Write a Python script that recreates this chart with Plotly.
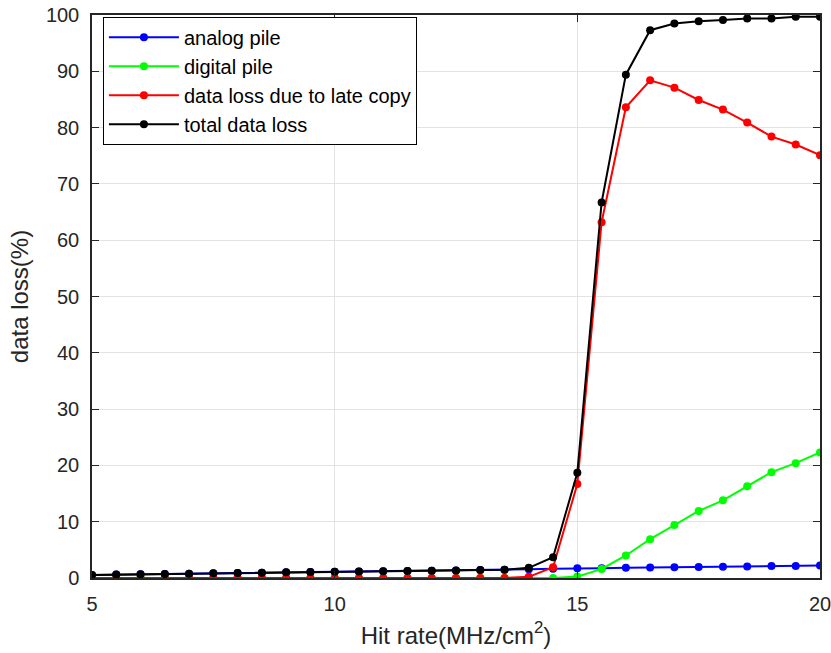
import plotly.graph_objects as go

hit_rate = [5, 5.5, 6, 6.5, 7, 7.5, 8, 8.5, 9, 9.5, 10, 10.5, 11, 11.5, 12, 12.5,
            13, 13.5, 14, 14.5, 15, 15.5, 16, 16.5, 17, 17.5, 18, 18.5, 19, 19.5, 20]

analog_pile = [0.55, 0.6, 0.65, 0.7, 0.75, 0.85, 0.9, 0.95, 1.0, 1.05, 1.1, 1.15, 1.2, 1.25,
               1.3, 1.35, 1.4, 1.45, 1.55, 1.65, 1.75, 1.75, 1.8, 1.85, 1.9, 1.95, 2.0,
               2.05, 2.15, 2.15, 2.2]

digital_pile = [0, 0, 0, 0, 0, 0, 0, 0, 0, 0, 0, 0, 0, 0, 0, 0, 0, 0, 0, 0, 0.25, 1.6,
                4.0, 6.9, 9.4, 11.9, 13.8, 16.3, 18.8, 20.4, 22.3]

late_copy = [0, 0, 0, 0, 0, 0, 0, 0, 0, 0, 0, 0, 0, 0, 0, 0, 0, 0, 0.2, 1.9, 16.7, 63.2,
             83.6, 88.4, 87.1, 84.9, 83.2, 80.9, 78.4, 77.0, 75.1]

total_loss = [0.55, 0.6, 0.65, 0.7, 0.75, 0.85, 0.9, 0.95, 1.0, 1.05, 1.1, 1.15, 1.2, 1.25,
              1.3, 1.35, 1.4, 1.45, 1.8, 3.7, 18.7, 66.7, 89.4, 97.3, 98.5, 98.9, 99.1,
              99.4, 99.4, 99.7, 99.7]

series = [
    ("analog pile", analog_pile, "#0000ff"),
    ("digital pile", digital_pile, "#00ff00"),
    ("data loss due to late copy", late_copy, "#ff0000"),
    ("total data loss", total_loss, "#000000"),
]

fig = go.Figure()
for name, vals, col in series:
    fig.add_trace(go.Scatter(
        x=hit_rate, y=vals, name=name, mode="lines+markers",
        line=dict(color=col, width=2),
        marker=dict(color=col, size=8),
    ))

font_family = "Liberation Sans, Arial, sans-serif"
axis_common = dict(
    showline=True, linecolor="#262626", linewidth=1.5, mirror="ticks",
    ticks="inside", ticklen=7, tickcolor="#262626", tickwidth=1,
    showgrid=True, gridcolor="#e3e3e3", gridwidth=1, zeroline=False,
    tickfont=dict(family=font_family, size=20, color="#262626"),
    ticklabeloverflow="allow",
)

fig.update_layout(
    width=831, height=653,
    margin=dict(l=92, r=11, t=15, b=75, autoexpand=False),
    paper_bgcolor="white", plot_bgcolor="white",
    font=dict(family=font_family, color="#262626"),
    showlegend=True,
    legend=dict(
        x=0.015, y=0.997, xanchor="left", yanchor="top",
        bgcolor="white", bordercolor="#000000", borderwidth=1,
        font=dict(family=font_family, size=20, color="#000000"),
        tracegroupgap=0, itemwidth=70,
    ),
)
fig.update_xaxes(
    range=[5, 20], tickvals=[5, 10, 15, 20], ticklabelstandoff=7,
    title=dict(text="Hit rate(MHz/cm<sup>2</sup>)", font=dict(family=font_family, size=24, color="#262626"), standoff=13),
    **axis_common,
)
fig.update_yaxes(
    range=[0, 100], tickvals=list(range(0, 101, 10)), ticklabelstandoff=7,
    title=dict(text="data loss(%)", font=dict(family=font_family, size=24, color="#262626"), standoff=10),
    **axis_common,
)

fig.write_html("out.html")
